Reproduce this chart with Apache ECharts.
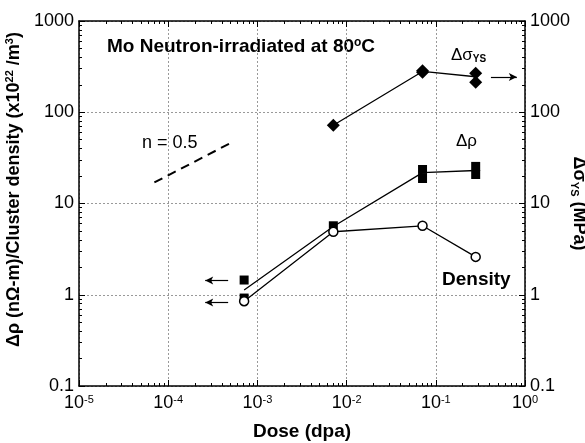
<!DOCTYPE html>
<html>
<head>
<meta charset="UTF-8">
<title></title>
<script src="https://cdn.jsdelivr.net/npm/echarts@6/dist/echarts.min.js"></script>
<style>
  html, body { margin: 0; padding: 0; background: #fff; }
  #main { width: 585px; height: 443px; }
</style>
</head>
<body>
<div id="main"></div>
<script type="text/javascript">
// dose (dpa)
var doseRho = [7.1e-4, 7.1e-3, 7.1e-2, 0.28];
var rhoMean = [1.13, 5.6, 21.8, 23];
// individual Δρ points (dose, value)
var rhoPoints = [[7.1e-4, 0.92], [7.1e-4, 1.45], [7.1e-3, 5.7], [7.1e-2, 23.6], [7.1e-2, 18.8], [0.28, 25.5], [0.28, 20.8]];

var doseDensity = [7.1e-4, 7.1e-3, 7.1e-2, 0.28];
var density = [0.85, 4.9, 5.7, 2.6];

var doseSigma = [7.1e-3, 7.1e-2, 0.28];
var sigmaMean = [72, 280, 245];
var sigmaPoints = [[7.1e-3, 72], [7.1e-2, 285], [7.1e-2, 275], [0.28, 268], [0.28, 213]];

// n = 0.5 slope guide
var slopeLine = [[7e-5, 17], [5e-4, 46]];

// arrows pointing to the axis used
var arrowLeftTop = [[4.7e-4, 1.43], [2.6e-4, 1.43]];
var arrowLeftBottom = [[4.7e-4, 0.82], [2.6e-4, 0.82]];
var arrowRight = [[0.415, 243], [0.81, 243]];

// tick positions
var decadesX = [1e-5, 1e-4, 1e-3, 1e-2, 1e-1, 1];
var decadesY = [0.1, 1, 10, 100, 1000];
var minorSteps = [2, 3, 4, 5, 6, 7, 8, 9];

var font = 'Arial, "Liberation Sans", sans-serif';

function zip(xs, ys) {
  var out = [];
  for (var i = 0; i < xs.length; i++) out.push([xs[i], ys[i]]);
  return out;
}

function powLabel(v) {
  var e = Math.round(Math.log10(v));
  return '{b|10}{s|' + e + '}';
}

function minorList(decades) {
  var out = [];
  for (var i = 0; i < decades.length - 1; i++) {
    for (var j = 0; j < minorSteps.length; j++) out.push(decades[i] * minorSteps[j]);
  }
  return out;
}
var minorX = minorList(decadesX);
var minorY = minorList(decadesY);

var xMin = decadesX[0], xMax = decadesX[decadesX.length - 1];
var yMin = decadesY[0], yMax = decadesY[decadesY.length - 1];

var chart = echarts.init(document.getElementById('main'));

function logAxis(extra) {
  return Object.assign({
    type: 'log',
    logBase: 10,
    axisLine: { show: true, lineStyle: { color: '#000', width: 1.5 } },
    axisTick: { show: true, inside: true, length: 6, lineStyle: { color: '#000', width: 1 } },
    minorTick: { show: false },
    splitLine: { show: false },
    minorSplitLine: { show: false }
  }, extra);
}

// overlay axis that only carries the minor ticks
function minorAxis(position, min, max, values) {
  return logAxis({
    position: position, min: min, max: max,
    axisLine: { show: false },
    axisLabel: { show: false },
    axisTick: { show: true, inside: true, length: 3, customValues: values, lineStyle: { color: '#000', width: 1 } }
  });
}

var gridLine = { show: true, lineStyle: { color: '#999', type: [2, 2], width: 1 } };

var option = {
  animation: false,
  grid: { left: 79, right: 60, top: 21, bottom: 57, outerBoundsMode: 'none' },
  xAxis: [
    logAxis({
      position: 'bottom',
      min: xMin, max: xMax,
      name: 'Dose (dpa)',
      nameLocation: 'middle',
      nameGap: 36,
      nameTextStyle: { fontFamily: font, fontWeight: 'bold', fontSize: 19, color: '#000' },
      splitLine: gridLine,
      axisTick: { show: true, inside: true, length: 6, customValues: decadesX, lineStyle: { color: '#000', width: 1 } },
      axisLabel: {
        formatter: powLabel,
        margin: 8,
        rich: {
          b: { fontSize: 18, fontFamily: font, color: '#000' },
          s: { fontSize: 11, verticalAlign: 'top', padding: [0, 0, 8, 0], fontFamily: font, color: '#000' }
        }
      }
    }),
    logAxis({ position: 'top', min: xMin, max: xMax, axisLabel: { show: false } }),
    minorAxis('bottom', xMin, xMax, minorX),
    minorAxis('top', xMin, xMax, minorX)
  ],
  yAxis: [
    logAxis({
      position: 'left',
      min: yMin, max: yMax,
      name: '{n|Δρ (nΩ-m)/Cluster density (x10}{s|22}{n| /m}{s|3}{n|)}',
      nameLocation: 'middle',
      nameGap: 54,
      nameTextStyle: {
        padding: [0, 0, 0, 28],
        rich: {
          n: { fontFamily: font, fontWeight: 'bold', fontSize: 18, color: '#000' },
          s: { fontFamily: font, fontWeight: 'bold', fontSize: 11, color: '#000', verticalAlign: 'top', padding: [0, 0, 8, 0] }
        }
      },
      splitLine: gridLine,
      axisLabel: {
        fontFamily: font, fontSize: 18, color: '#000', margin: 5,
        formatter: function (v) { return String(v); }
      }
    }),
    logAxis({
      position: 'right',
      min: yMin, max: yMax,
      name: '{n|Δσ}{s|YS}{n| (MPa)}',
      nameLocation: 'middle',
      nameRotate: -90,
      nameGap: 44,
      nameMoveOverlap: false,
      nameTextStyle: {
        rich: {
          n: { fontFamily: font, fontWeight: 'bold', fontSize: 18, color: '#000' },
          s: { fontFamily: font, fontWeight: 'bold', fontSize: 11, color: '#000', verticalAlign: 'bottom', padding: [8, 0, 0, 0] }
        }
      },
      axisLabel: {
        fontFamily: font, fontSize: 18, color: '#000', margin: 5,
        formatter: function (v) { return String(v); }
      }
    }),
    minorAxis('left', yMin, yMax, minorY),
    minorAxis('right', yMin, yMax, minorY)
  ],
  series: [
    {
      name: 'rhoLine', type: 'line', data: zip(doseRho, rhoMean),
      symbol: 'none', lineStyle: { color: '#000', width: 1.3 }, z: 2
    },
    {
      name: 'rho', type: 'scatter', data: rhoPoints,
      symbol: 'rect', symbolSize: 9,
      itemStyle: { color: '#000', opacity: 1 }, z: 3
    },
    {
      name: 'densityLine', type: 'line', data: zip(doseDensity, density),
      symbol: 'circle', symbolSize: 9, showAllSymbol: true,
      lineStyle: { color: '#000', width: 1.3 },
      itemStyle: { color: '#fff', borderColor: '#000', borderWidth: 1.5, opacity: 1 }, z: 4
    },
    {
      name: 'sigmaLine', type: 'line', yAxisIndex: 1, data: zip(doseSigma, sigmaMean),
      symbol: 'none', lineStyle: { color: '#000', width: 1.3 }, z: 2
    },
    {
      name: 'sigma', type: 'scatter', yAxisIndex: 1, data: sigmaPoints,
      symbol: 'diamond', symbolSize: 13,
      itemStyle: { color: '#000', opacity: 1 }, z: 3
    },
    {
      name: 'slope', type: 'line', data: slopeLine,
      symbol: 'none', lineStyle: { color: '#000', width: 2, type: [9, 6] }
    },
    {
      name: 'arrows', type: 'line', data: [],
      markLine: {
        silent: true,
        symbol: ['none', 'arrow'],
        symbolSize: [6, 8],
        label: { show: false },
        lineStyle: { color: '#000', width: 1.2, type: 'solid' },
        data: [
          [{ coord: arrowLeftTop[0] }, { coord: arrowLeftTop[1] }],
          [{ coord: arrowLeftBottom[0] }, { coord: arrowLeftBottom[1] }],
          [{ coord: arrowRight[0] }, { coord: arrowRight[1] }]
        ]
      }
    }
  ],
  graphic: [
    {
      type: 'text', left: 107, top: 37,
      style: { text: 'Mo Neutron-irradiated at 80{s|o}C', fontFamily: font, fontWeight: 'bold', fontSize: 19, fill: '#000',
        rich: { s: { fontFamily: font, fontWeight: 'bold', fontSize: 12, verticalAlign: 'top', padding: [0, 0, 8, 0] } } }
    },
    {
      type: 'text', left: 142, top: 134,
      style: { text: 'n = 0.5', fontFamily: font, fontSize: 18, fill: '#000' }
    },
    {
      type: 'text', left: 456, top: 133,
      style: { text: 'Δρ', fontFamily: font, fontSize: 17, fill: '#000' }
    },
    {
      type: 'text', left: 451, top: 47,
      style: { text: 'Δσ{s|YS}', fontFamily: font, fontSize: 17, fill: '#000',
        rich: { s: { fontFamily: font, fontWeight: 'bold', fontSize: 10, verticalAlign: 'bottom', padding: [8, 0, 0, 0] } } }
    },
    {
      type: 'text', left: 442, top: 270,
      style: { text: 'Density', fontFamily: font, fontWeight: 'bold', fontSize: 19, fill: '#000' }
    }
  ]
};

chart.setOption(option);
</script>
</body>
</html>
